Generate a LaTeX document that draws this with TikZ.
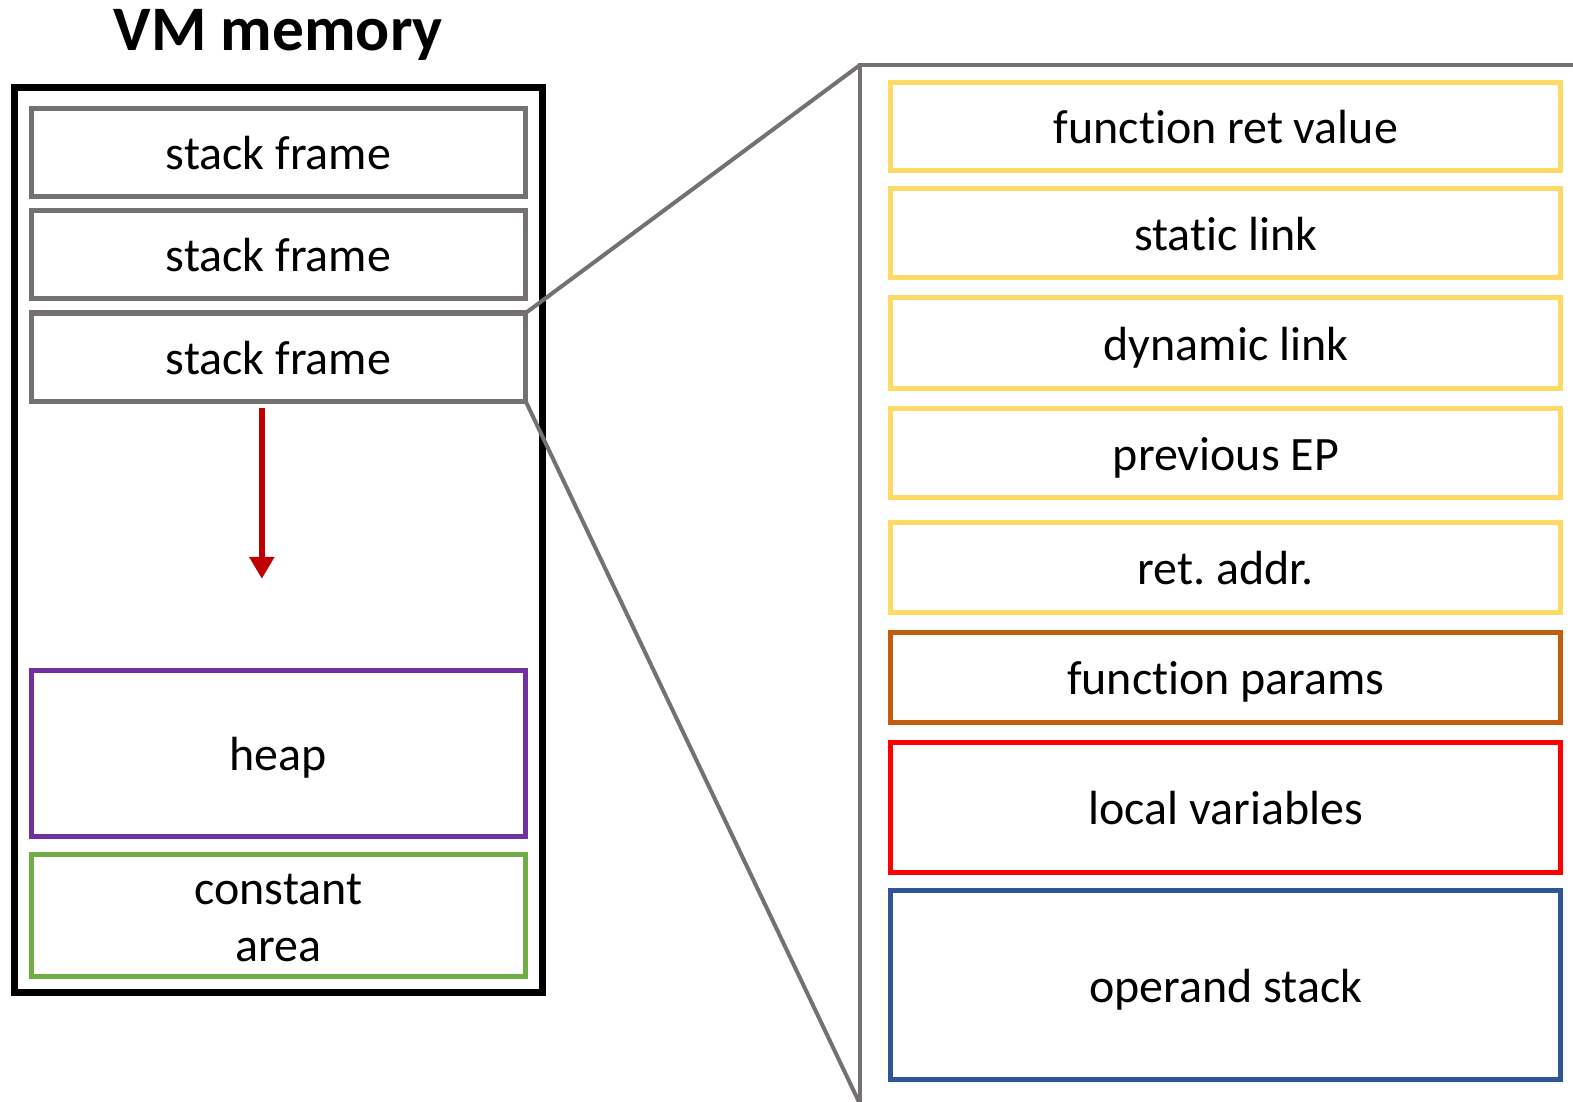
\documentclass[tikz,border=0pt]{standalone}
\usepackage{fontspec}
\setmainfont{Carlito}[Ligatures=NoCommon]
\usetikzlibrary{arrows.meta}
\definecolor{framegray}{HTML}{767171}
\definecolor{growred}{HTML}{C00000}
\definecolor{heappurple}{HTML}{7030A0}
\definecolor{constgreen}{HTML}{70AD47}
\definecolor{ctlyellow}{HTML}{FFD966}
\definecolor{paramorange}{HTML}{C55A11}
\definecolor{localred}{HTML}{FF0000}
\definecolor{opblue}{HTML}{2F5597}
\tikzset{
  cellfont/.style={font=\fontsize{23.9}{28}\selectfont},
  cell/.style={draw, rectangle, inner sep=0pt, outer sep=0pt, cellfont,
    text height=17pt, text depth=0pt},
  leftcell/.style={cell, minimum width=246.5pt, line width=2.5pt},
  rightcell/.style={cell, minimum width=334pt, line width=2.5pt},
  zoomline/.style={draw=framegray, line width=2pt},
}
\begin{document}
\frenchspacing
\begin{tikzpicture}[x=0.5pt, y=-0.5pt]
\useasboundingbox (0,0) rectangle (1568,1098);

% title and outer memory frame
\node[font=\fontsize{31.6}{36}\selectfont\bfseries, anchor=base] (title) at (277.5,50) {VM memory};
\node[draw, rectangle, line width=3.5pt, inner sep=0pt,
      minimum width=263.5pt, minimum height=451pt] (mem) at (277.5,538) {};

% stack frames
\node[leftcell, draw=framegray, minimum height=44pt] (sf1) at (277.5,152) {stack frame};
\node[leftcell, draw=framegray, minimum height=44pt] (sf2) at (277.5,254) {stack frame};
\node[leftcell, draw=framegray, minimum height=44pt] (sf3) at (277.5,356) {stack frame};

% growth direction of the stack
\coordinate (growtop) at (261,407);
\coordinate (growend) at (261,577);
\draw[growred, line width=3pt, -{Triangle[width=12pt,length=11pt]}] (growtop) -- (growend);

% heap and constant area
\node[leftcell, draw=heappurple, minimum height=83pt] (heap) at (277.5,751) {heap};
\node[leftcell, draw=constgreen, minimum height=60.5pt] (const) at (277.5,912.5) {};
\node[cellfont, align=center, inner sep=0pt] (constlabel) at (277.5,915) {constant\\area};

% detailed view of one stack frame
\node[rightcell, draw=ctlyellow, minimum height=44pt] (retval) at (1222,126) {function ret value};
\node[rightcell, draw=ctlyellow, minimum height=44.5pt] (slink) at (1222,232.5) {static link};
\node[rightcell, draw=ctlyellow, minimum height=45pt] (dlink) at (1222,342) {dynamic link};
\node[rightcell, draw=ctlyellow, minimum height=44.5pt] (prevep) at (1222,451.5) {previous EP};
\node[rightcell, draw=ctlyellow, minimum height=45pt] (retaddr) at (1222,566) {ret. addr.};
\node[rightcell, draw=paramorange, minimum height=45pt] (params) at (1222,675) {function params};
\node[rightcell, draw=localred, minimum height=65pt] (locals) at (1222,805) {local variables};
\node[rightcell, draw=opblue, minimum height=94pt] (opstack) at (1222,982) {operand stack};

% zoom bracket
\coordinate (zoomend) at (1575,65);
\coordinate (zoomtop) at (857,65);
\coordinate (zoombot) at (857,1100);
\draw[zoomline] (zoomend) -- (zoomtop) -- (zoombot);
\draw[zoomline] (sf3.north east) -- (zoomtop);
\draw[zoomline] (sf3.south east) -- (zoombot);
\end{tikzpicture}
\end{document}
